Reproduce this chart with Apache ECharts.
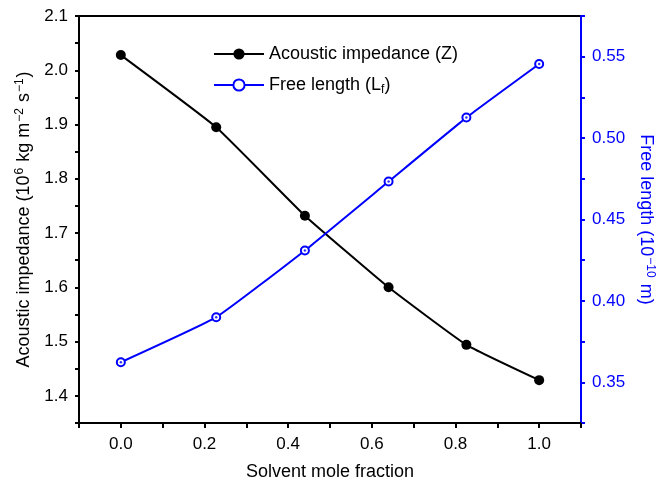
<!DOCTYPE html>
<html>
<head>
<meta charset="utf-8">
<script src="https://cdn.jsdelivr.net/npm/echarts@6/dist/echarts.min.js"></script>
<style>html,body{margin:0;padding:0;background:#fff;}#c{width:657px;height:484px;}</style>
</head>
<body>
<div id="c"></div>
<script>
var moleFraction = [0.0, 0.228, 0.440, 0.640, 0.826, 1.0];
var impedance = [2.028, 1.895, 1.732, 1.600, 1.494, 1.429];
var freeLength = [0.3623, 0.390, 0.431, 0.4733, 0.5126, 0.5455];
var seriesNames = ['Acoustic impedance (Z)', 'Free length (L_f)'];

var FONT = 'Liberation Sans';
var FS = 17;
var NFS = 18;
function pairs(xs, ys){ return xs.map(function(x,i){ return [x, ys[i]]; }); }
function onMult(v, m){ var r = Math.round(v/m); return Math.abs(v - r*m) < 1e-6; }

var chart = echarts.init(document.getElementById('c'), null, {renderer:'canvas'});
chart.setOption({
  animation: false,
  backgroundColor: '#fff',
  textStyle: {fontFamily: FONT},
  grid: {left: 79, right: 76, top: 16, bottom: 61, containLabel: false, outerBoundsMode: 'none',
    show: true, borderColor: '#000', borderWidth: 2, backgroundColor: 'transparent'},
  legend: {
    data: seriesNames,
    orient: 'vertical',
    left: 208, top: 40,
    itemWidth: 50, itemHeight: 14, itemGap: 13,
    textStyle: {fontFamily: FONT, fontSize: 18, color: '#000',
      rich: {a: {fontFamily: FONT, fontSize: 18, color: '#000'}, s: {fontFamily: FONT, fontSize: 12, color: '#000', verticalAlign: 'bottom', padding: [9,0,0,0]}}},
    formatter: function(n){
      if (n === seriesNames[1]) return '{a|Free length (L}{s|f}{a|)}';
      return '{a|' + n + '}';
    }
  },
  xAxis: {
    type: 'value', min: -0.1, max: 1.1, interval: 0.1,
    name: 'Solvent mole fraction', nameLocation: 'middle', nameGap: 40,
    nameTextStyle: {fontFamily: FONT, fontSize: NFS, color: '#000'},
    axisLine: {onZero: false, lineStyle: {color: '#000', width: 2}},
    axisTick: {inside: false, length: 5, lineStyle: {color: '#000', width: 2}},
    axisLabel: {margin: 13, fontFamily: FONT, fontSize: FS, color: '#000',
      formatter: function(v){ return (onMult(v, 0.2) && v > -0.05) ? v.toFixed(1) : ''; }},
    splitLine: {show: false}
  },
  yAxis: [{
    type: 'value', min: 1.35, max: 2.1, interval: 0.05, position: 'left',
    name: '{a|Acoustic impedance (10}{s|6}{a| kg m}{s|−2}{a| s}{s|−1}{a|)}',
    nameLocation: 'middle', nameGap: 36, nameRotate: 90,
    nameTextStyle: {fontFamily: FONT, fontSize: NFS, color: '#000',
      rich: {a: {fontFamily: FONT, fontSize: NFS, color: '#000'}, s: {fontFamily: FONT, fontSize: 12, color: '#000', verticalAlign: 'top', padding: [0,1,9,1]}}},
    axisLine: {show: true, onZero: false, lineStyle: {color: '#000', width: 2}},
    axisTick: {length: 4, lineStyle: {color: '#000', width: 2}},
    axisLabel: {margin: 11, fontFamily: FONT, fontSize: FS, color: '#000',
      formatter: function(v){ return onMult(v, 0.1) ? v.toFixed(1) : ''; }},
    splitLine: {show: false}
  }, {
    type: 'value', min: 0.325, max: 0.575, interval: 0.025, position: 'right',
    name: '{a|Free length (10}{s|−10}{a| m)}',
    nameLocation: 'middle', nameGap: 54, nameRotate: -90,
    nameTextStyle: {fontFamily: FONT, fontSize: NFS, color: '#0000ff',
      rich: {a: {fontFamily: FONT, fontSize: NFS, color: '#0000ff'}, s: {fontFamily: FONT, fontSize: 12, color: '#0000ff', verticalAlign: 'top', padding: [0,1,9,1]}}},
    axisLine: {show: true, onZero: false, lineStyle: {color: '#0000ff', width: 2}},
    axisTick: {length: 4, lineStyle: {color: '#0000ff', width: 2}},
    axisLabel: {margin: 11, fontFamily: FONT, fontSize: FS, color: '#0000ff',
      formatter: function(v){ return onMult(v, 0.05) ? v.toFixed(2) : ''; }},
    splitLine: {show: false}
  }],
  series: [{
    name: seriesNames[0], type: 'line', yAxisIndex: 0,
    data: pairs(moleFraction, impedance),
    smooth: 0.12, symbol: 'circle', symbolSize: 10,
    lineStyle: {color: '#000', width: 2},
    itemStyle: {color: '#000'}, z: 3
  }, {
    name: seriesNames[1], type: 'line', yAxisIndex: 1,
    data: pairs(moleFraction, freeLength),
    smooth: 0.12, symbol: 'emptyCircle', symbolSize: 8,
    lineStyle: {color: '#0000ff', width: 2},
    itemStyle: {color: '#0000ff', borderColor: '#0000ff', borderWidth: 2.5}, z: 3
  }, {
    name: 'dots', type: 'scatter', yAxisIndex: 1,
    data: pairs(moleFraction, freeLength),
    symbol: 'circle', symbolSize: 2.5, silent: true,
    itemStyle: {color: '#0000ff'}, z: 5
  }]
});
</script>
</body>
</html>
